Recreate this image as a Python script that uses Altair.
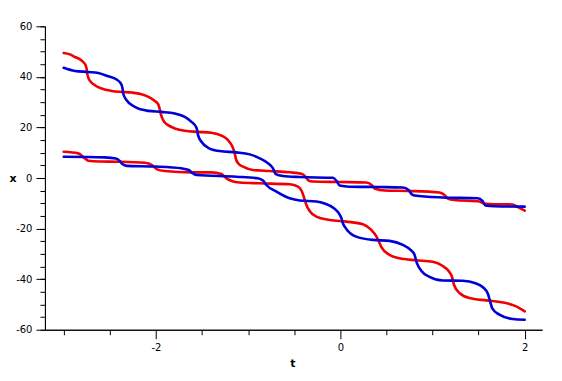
import altair as alt
import pandas as pd

# Curve starting at x=50 (red)
t_red_a = [-3.0, -2.933, -2.879, -2.824, -2.789, -2.763, -2.752, -2.745, -2.734, -2.705,
           -2.662, -2.589, -2.481, -2.373, -2.264, -2.156, -2.066, -2.012, -1.976, -1.958,
           -1.947, -1.922, -1.868, -1.795, -1.687, -1.543, -1.398, -1.289, -1.218, -1.170,
           -1.145, -1.134, -1.109, -1.055, -0.947, -0.766, -0.549, -0.423, -0.376, -0.351,
           -0.297, -0.008, 0.282, 0.339, 0.372, 0.480, 0.732, 1.076, 1.130, 1.166,
           1.238, 1.509, 1.553, 1.618, 1.870, 1.921, 2.0]
x_red_a = [49.43, 48.9, 47.85, 46.94, 45.88, 44.58, 43.27, 41.30, 39.72, 37.99,
           36.69, 35.38, 34.44, 34.04, 33.81, 33.14, 31.83, 30.49, 29.19, 27.10,
           25.25, 22.88, 20.91, 19.61, 18.66, 18.26, 17.87, 16.77, 14.99, 12.35,
           9.74, 7.77, 5.80, 4.46, 3.16, 2.76, 2.25, 1.70, 0.51, -0.79,
           -1.38, -1.58, -1.78, -2.76, -4.14, -4.93, -5.13, -5.72, -6.71, -8.09,
           -8.68, -9.27, -10.06, -10.26, -10.45, -11.44, -12.9]

# Curve starting at x=43.5 (blue)
t_blue_a = [-3.0, -2.879, -2.734, -2.626, -2.518, -2.427, -2.380, -2.362, -2.355, -2.318,
            -2.229, -2.084, -1.939, -1.795, -1.687, -1.614, -1.560, -1.543, -1.506, -1.434,
            -1.308, -1.127, -0.983, -0.874, -0.784, -0.730, -0.701, -0.622, -0.441, -0.080,
            -0.040, -0.008, 0.101, 0.426, 0.678, 0.740, 0.772, 0.805, 1.112, 1.488,
            1.542, 1.574, 1.672, 2.0]
x_blue_a = [43.59, 42.33, 41.93, 41.54, 40.24, 38.94, 37.36, 35.38, 33.41, 30.77,
            28.13, 26.55, 26.15, 25.52, 24.18, 22.21, 19.92, 16.96, 14.32, 11.95,
            10.65, 10.14, 9.35, 7.77, 5.80, 3.83, 1.58, 0.79, 0.39, 0.08,
            -1.18, -2.96, -3.43, -3.55, -3.75, -4.73, -6.31, -6.90, -7.69, -8.01,
            -9.07, -10.85, -11.16, -11.32]

# Curve starting at x=10.5 (red)
t_red_b = [-3.0, -2.843, -2.770, -2.734, -2.608, -2.410, -2.120, -2.044, -1.993, -1.904,
           -1.614, -1.398, -1.289, -1.235, -1.178, -1.091, -0.874, -0.549, -0.459, -0.419,
           -0.392, -0.368, -0.333, -0.260, -0.116, 0.065, 0.245, 0.336, 0.388, 0.420,
           0.447, 0.534, 0.642, 0.823, 1.003, 1.108, 1.173, 1.211, 1.233, 1.293,
           1.401, 1.582, 1.762, 1.907, 2.0]
x_red_b = [10.37, 9.74, 7.77, 6.82, 6.51, 6.43, 6.04, 5.13, 3.55, 2.76,
           2.25, 2.25, 1.58, -0.12, -1.18, -1.78, -2.09, -2.49, -3.43, -5.13,
           -7.89, -10.65, -13.02, -15.27, -16.57, -17.24, -18.26, -20.51, -22.88, -25.25,
           -27.42, -30.37, -31.76, -32.54, -33.14, -34.71, -36.69, -39.05, -42.21, -45.48,
           -47.46, -48.40, -49.19, -50.77, -52.74]

# Curve starting at x=8.5 (blue)
t_blue_b = [-3.0, -2.554, -2.434, -2.391, -2.364, -2.315, -2.012, -1.723, -1.644, -1.611,
            -1.560, -1.127, -0.896, -0.839, -0.802, -0.693, -0.549, -0.441, -0.260, -0.170,
            -0.073, -0.018, 0.011, 0.028, 0.065, 0.173, 0.353, 0.534, 0.678, 0.762,
            0.805, 0.830, 0.878, 0.967, 1.112, 1.328, 1.466, 1.553, 1.601, 1.625,
            1.650, 1.726, 1.870, 2.0]
x_blue_b = [8.40, 8.17, 7.69, 6.71, 5.52, 4.81, 4.54, 3.83, 3.16, 2.17,
            1.18, 0.51, -0.12, -0.99, -2.76, -5.40, -8.01, -8.88, -9.27, -10.06,
            -11.83, -13.81, -15.78, -17.87, -20.12, -23.16, -24.46, -24.85, -26.43, -28.40,
            -30.37, -33.53, -36.69, -39.05, -40.51, -40.63, -41.62, -43.39, -45.76, -48.80,
            -51.68, -54.04, -55.74, -56.02]

curve_names = ["redA", "blueA", "redB", "blueB"]
curve_colors = ["#f00000", "#0000d8", "#f00000", "#0000d8"]
curve_widths = [2.6, 2.6, 2.6, 2]

x_minor_ticks = [-3, -2.5, -1.5, -1, -0.5, 0.5, 1, 1.5]
x_major_ticks = [-2, 0, 2]
y_minor_ticks = list(range(-60, 61, 5))
y_major_ticks = [-60, -40, -20, 0, 20, 40, 60]

frames = []
for name, ts, xs in zip(curve_names,
                        [t_red_a, t_blue_a, t_red_b, t_blue_b],
                        [x_red_a, x_blue_a, x_red_b, x_blue_b]):
    frames.append(pd.DataFrame({"t": ts, "x": xs, "curve": name}))
df = pd.concat(frames, ignore_index=True)

FONT = "DejaVu Sans"
xscale = alt.Scale(domain=[-3.204, 2.188], nice=False, zero=False)
yscale = alt.Scale(domain=[-60, 60], nice=False, zero=False)
minus_fix = "replace(datum.label, '\u2212', '-')"

lines = alt.Chart(df).mark_line(interpolate="monotone", strokeCap="round", strokeJoin="round").encode(
    x=alt.X("t:Q", scale=xscale,
            axis=alt.Axis(orient="bottom", values=x_minor_ticks, tickSize=5, labels=False,
                          title=None, grid=False, domainColor="black", tickColor="black",
                          domainWidth=1, tickWidth=1)),
    y=alt.Y("x:Q", scale=yscale,
            axis=alt.Axis(orient="left", values=y_minor_ticks, tickSize=5, labels=False,
                          title=None, grid=False, domainColor="black", tickColor="black",
                          domainWidth=1, tickWidth=1)),
    color=alt.Color("curve:N", scale=alt.Scale(domain=curve_names, range=curve_colors), legend=None),
    strokeWidth=alt.StrokeWidth("curve:N", scale=alt.Scale(domain=curve_names, range=curve_widths), legend=None),
    detail="curve:N",
)

major = alt.Chart(df).mark_point(opacity=0).encode(
    x=alt.X("t:Q", scale=xscale,
            axis=alt.Axis(orient="bottom", values=x_major_ticks, tickSize=9, labelPadding=4,
                          labelFont=FONT, labelFontSize=10, labelColor="black", labelFlush=False,
                          labelExpr=minus_fix, grid=False, domainColor="black", tickColor="black",
                          title="t", titleFont=FONT, titleFontSize=11, titleFontWeight="bold",
                          titleColor="black", titleX=248, titleY=34, titleAlign="center",
                          titleBaseline="middle", titleAngle=0)),
    y=alt.Y("x:Q", scale=yscale,
            axis=alt.Axis(orient="left", values=y_major_ticks, tickSize=9, labelPadding=4,
                          labelFont=FONT, labelFontSize=10, labelColor="black", labelFlush=False,
                          labelExpr=minus_fix, grid=False, domainColor="black", tickColor="black",
                          title="x", titleFont=FONT, titleFontSize=11, titleFontWeight="bold",
                          titleColor="black", titleX=-36, titleY=152, titleAlign="left",
                          titleBaseline="middle", titleAngle=0)),
)

chart = alt.layer(lines, major).resolve_axis(x="independent", y="independent").properties(
    width=498, height=304,
    autosize=alt.AutoSizeParams(type="none"),
    padding={"left": 37, "top": 18, "right": 12, "bottom": 40},
    background="white",
).configure_view(stroke=None)

chart.save("out.html", embed_options={"renderer": "svg", "actions": False})
